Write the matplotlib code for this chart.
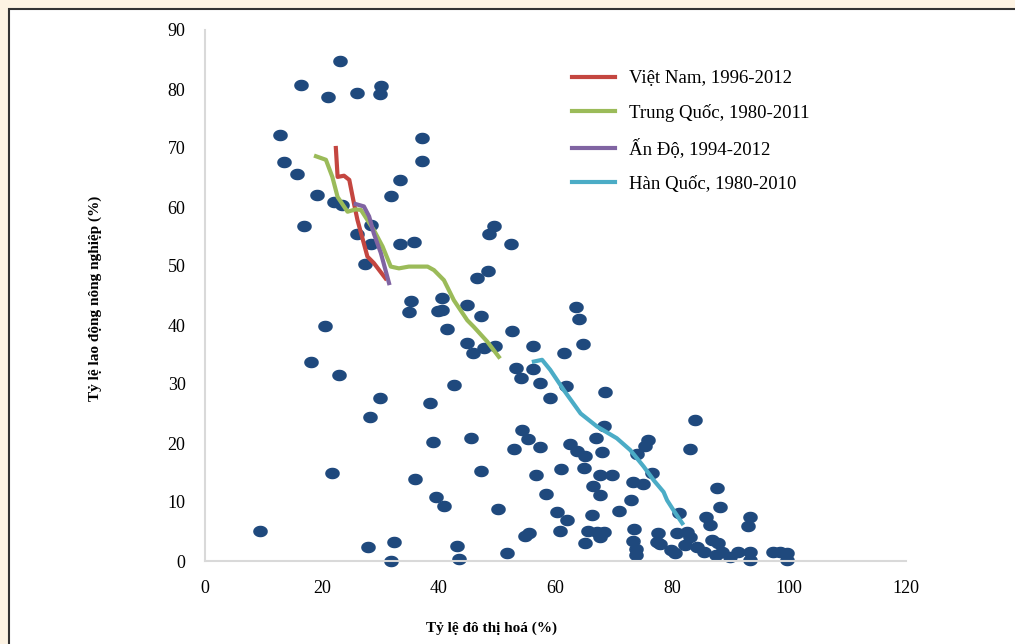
import numpy as np
import matplotlib.pyplot as plt
from matplotlib.patches import Rectangle

plt.rcParams['font.family'] = ['Liberation Serif', 'DejaVu Serif']

# scatter: countries (urbanisation %, agricultural labour share %)
urban = [23.1, 16.4, 21.0, 26.0, 30.1, 30.0, 12.8, 37.2, 13.5, 37.2,
         15.7, 33.3, 19.1, 31.8, 22.1, 23.5, 16.9, 26.0, 28.4, 28.4,
         33.3, 35.8, 27.4, 35.3, 40.6, 35.0, 39.9, 40.6, 20.5, 41.4,
         18.2, 23.0, 42.7, 29.9, 38.5, 28.2, 39.0, 21.7, 36.0, 39.5,
         40.9, 9.4, 27.9, 32.4, 31.8, 43.2, 43.5, 49.5, 48.7, 52.4,
         48.4, 46.6, 44.9, 47.2, 52.5, 44.9, 45.9, 47.7, 49.6, 63.5,
         64.1, 64.7, 56.1, 61.5, 53.3, 54.1, 56.2, 57.4, 59.1, 61.8,
         68.5, 83.8, 68.3, 66.9, 54.3, 55.3, 57.3, 52.9, 45.6, 62.4,
         63.7, 65.0, 67.9, 75.9, 75.3, 83.1, 74.0, 47.3, 60.9, 64.9,
         56.7, 67.7, 69.6, 76.6, 73.2, 74.9, 66.4, 67.7, 58.4, 73.0,
         50.1, 60.3, 61.9, 66.2, 70.9, 81.2, 55.4, 54.7, 60.7, 65.5,
         67.1, 68.3, 67.7, 65.1, 73.4, 73.2, 73.7, 73.8, 77.5, 77.4,
         77.9, 51.7, 87.6, 88.2, 85.8, 86.4, 93.3, 92.9, 80.8, 82.5,
         83.1, 79.7, 80.5, 82.2, 84.2, 85.4, 86.8, 87.9, 88.5, 87.4,
         89.9, 91.3, 93.3, 93.3, 97.3, 98.5, 99.6, 99.6]
agri = [84.8, 80.6, 78.6, 79.3, 80.5, 79.1, 72.2, 71.7, 67.7, 67.8,
        65.6, 64.6, 62.0, 61.8, 60.9, 60.3, 56.8, 55.4, 56.9, 53.8,
        53.7, 54.0, 50.3, 44.1, 44.5, 42.2, 42.3, 42.5, 39.8, 39.4,
        33.7, 31.6, 29.8, 27.7, 26.7, 24.4, 20.1, 14.9, 13.9, 10.8,
        9.3, 5.1, 2.4, 3.2, 0.0, 2.6, 0.3, 56.7, 55.4, 53.7,
        49.2, 48.0, 43.4, 41.6, 38.9, 36.9, 35.2, 36.1, 36.5, 43.1,
        41.0, 36.7, 36.4, 35.2, 32.7, 31.1, 32.6, 30.1, 27.7, 29.7,
        28.7, 23.9, 22.8, 20.9, 22.2, 20.6, 19.4, 19.0, 20.9, 19.8,
        18.6, 17.8, 18.5, 20.5, 19.5, 19.0, 18.1, 15.3, 15.6, 15.8,
        14.6, 14.6, 14.5, 15.0, 13.4, 13.1, 12.7, 11.2, 11.4, 10.3,
        8.8, 8.3, 6.9, 7.8, 8.5, 8.1, 4.8, 4.3, 5.1, 5.1,
        5.0, 5.0, 4.1, 3.0, 5.5, 3.4, 2.0, 1.0, 4.8, 3.3,
        2.8, 1.3, 12.3, 9.2, 7.5, 6.1, 7.5, 5.9, 4.7, 5.0,
        4.1, 1.9, 1.3, 2.7, 2.4, 1.6, 3.6, 3.0, 1.6, 1.0,
        0.7, 1.6, 1.6, 0.2, 1.6, 1.6, 1.3, 0.1]

# country paths
vn_urban = [22.4, 22.7, 23.8, 24.7, 25.5, 26.1, 27.2, 27.8, 28.9, 30.9]
vn_agri = [70.0, 65.1, 65.3, 64.6, 60.6, 57.8, 53.8, 51.6, 50.5, 47.9]

cn_urban = [19.0, 20.7, 21.8, 22.7, 24.4, 25.8, 26.7, 28.9, 30.4, 31.8,
            33.2, 34.9, 38.1, 39.2, 40.9, 42.6, 44.9, 46.0, 48.3, 50.3]
cn_agri = [68.6, 68.0, 65.1, 61.7, 59.2, 59.6, 59.5, 56.1, 53.3, 49.9,
           49.6, 49.9, 49.9, 49.3, 47.6, 44.2, 40.8, 39.7, 37.2, 34.6]

in_urban = [25.8, 27.2, 28.1, 28.9, 30.1, 30.9, 31.5]
in_agri = [60.5, 60.1, 58.4, 55.5, 52.2, 49.3, 47.1]

kr_urban = [56.3, 57.7, 59.1, 61.4, 64.3, 67.1, 70.5, 72.8, 75.1, 76.8,
            78.5, 79.1, 80.2, 81.7]
kr_agri = [33.8, 34.1, 32.4, 29.0, 25.0, 22.8, 20.8, 18.8, 16.0, 13.7,
           11.7, 10.3, 8.6, 6.4]

fig = plt.figure(figsize=(10.15, 6.44), dpi=100, facecolor='#fdf3e3')
fig.patches.append(Rectangle((9 / 1015, -0.01), 1.02, 1.0 - 9 / 644 + 0.01,
                             transform=fig.transFigure, facecolor='white',
                             edgecolor='#333333', lw=1.5, zorder=-1))

ax = fig.add_axes([205 / 1015, 1 - 561 / 644, 701 / 1015, 531 / 644])
ax.set_facecolor('white')

t = np.linspace(0, 2 * np.pi, 40)
ellipse = np.column_stack([1.3 * np.cos(t), np.sin(t)])
ax.plot(urban, agri, linestyle='none', marker=ellipse, ms=9.5,
        color='#1f497d', zorder=2, clip_on=False)

ax.plot(vn_urban, vn_agri, color='#c44640', lw=3, label='Việt Nam, 1996-2012', zorder=3)
ax.plot(cn_urban, cn_agri, color='#9bbb59', lw=3, label='Trung Quốc, 1980-2011', zorder=3)
ax.plot(in_urban, in_agri, color='#8064a2', lw=3, label='Ấn Độ, 1994-2012', zorder=3)
ax.plot(kr_urban, kr_agri, color='#4bacc6', lw=3, label='Hàn Quốc, 1980-2010', zorder=3)

ax.set_xlim(0, 120)
ax.set_ylim(0, 90)
ax.set_xticks(range(0, 121, 20))
ax.set_yticks(range(0, 91, 10))
ax.tick_params(length=0, labelsize=13, pad=14)
for s in ['top', 'right']:
    ax.spines[s].set_visible(False)
for s in ['left', 'bottom']:
    ax.spines[s].set_color('#d9d9d9')
    ax.spines[s].set_linewidth(1.5)

ax.legend(loc='upper left', bbox_to_anchor=(572 / 1015, 1 - 70 / 644),
          bbox_transform=fig.transFigure, frameon=False, fontsize=13.5,
          handlelength=2.3, handletextpad=0.75, labelspacing=0.9,
          borderpad=0, borderaxespad=0)

fig.text(492 / 1015, 1 - 628 / 644, 'Tỷ lệ đô thị hoá (%)', ha='center', va='center',
         fontsize=11, fontweight='bold')
fig.text(95 / 1015, 1 - 298 / 644, 'Tỷ lệ lao động nông nghiệp (%)', ha='center', va='center',
         rotation=90, fontsize=11, fontweight='bold')

fig.savefig('out.png', dpi=100, facecolor=fig.get_facecolor())
